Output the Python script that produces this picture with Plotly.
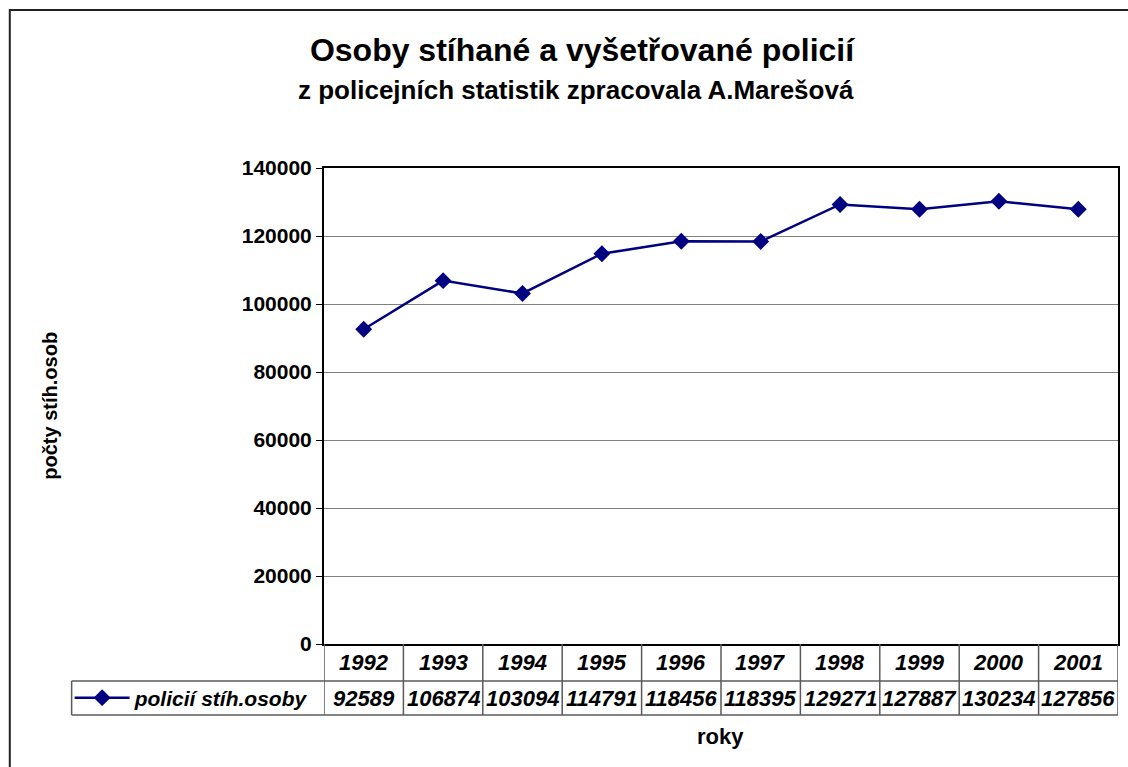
import plotly.graph_objects as go

years = ["1992", "1993", "1994", "1995", "1996", "1997", "1998", "1999", "2000", "2001"]
values = [92589, 106874, 103094, 114791, 118456, 118395, 129271, 127887, 130234, 127856]
series_name = "policií stíh.osoby"
title_text = "Osoby stíhané a vyšetřované policií"
subtitle_text = "z policejních statistik zpracovala A.Marešová"
x_title = "roky"
y_title = "počty stíh.osob"
y_ticks = [0, 20000, 40000, 60000, 80000, 100000, 120000, 140000]

FONT = "Liberation Sans, Arial, sans-serif"
NAVY = "#000080"
GRID = "#808080"
TBL = "#5a5a5a"

W, H = 1128, 767
L, R, T, B = 324, 8, 168, 123
PH = H - T - B
PW = W - L - R


def py(pix):  # pixel y -> paper y
    return (H - B - pix) / PH


def px(pix):  # pixel x -> paper x
    return (pix - L) / PW


fig = go.Figure()
fig.add_trace(go.Scatter(
    x=years, y=values, mode="lines+markers",
    name="<b><i>" + series_name + "</i></b>",
    line=dict(color=NAVY, width=2.5),
    marker=dict(symbol="diamond", size=13, color=NAVY),
    showlegend=True,
))

shapes = []
# outer border
shapes.append(dict(type="rect", xref="paper", yref="paper",
                   x0=px(9), x1=px(1140), y0=py(10), y1=py(790),
                   line=dict(color="#222222", width=2), layer="below"))
# data table: column boundaries
n = len(years)
for i in range(n + 1):
    shapes.append(dict(type="line", xref="x", yref="paper",
                       x0=i - 0.5, x1=i - 0.5, y0=py(644), y1=py(715),
                       line=dict(color=TBL, width=1.5)))
# row lines
for yy in (681, 715):
    shapes.append(dict(type="line", xref="paper", yref="paper",
                       x0=px(71), x1=1, y0=py(yy), y1=py(yy),
                       line=dict(color=TBL, width=1.5)))
# legend cell left border
shapes.append(dict(type="line", xref="paper", yref="paper",
                   x0=px(71), x1=px(71), y0=py(681), y1=py(715),
                   line=dict(color=TBL, width=1.5)))

annotations = []
for i, (yr, v) in enumerate(zip(years, values)):
    annotations.append(dict(x=i, y=py(662.5), xref="x", yref="paper",
                            text="<b><i>%s</i></b>" % yr, showarrow=False,
                            font=dict(family=FONT, size=22, color="black"),
                            xanchor="center", yanchor="middle"))
    annotations.append(dict(x=i, y=py(698), xref="x", yref="paper",
                            text="<b><i>%d</i></b>" % v, showarrow=False,
                            font=dict(family=FONT, size=22, color="black"),
                            xanchor="center", yanchor="middle"))
annotations.append(dict(x=px(577), y=py(90), xref="paper", yref="paper",
                        text="<b>" + subtitle_text + "</b>", showarrow=False,
                        font=dict(family=FONT, size=26, color="black"),
                        xanchor="center", yanchor="middle"))
annotations.append(dict(x=px(721), y=py(736), xref="paper", yref="paper",
                        text="<b>" + x_title + "</b>", showarrow=False,
                        font=dict(family=FONT, size=22, color="black"),
                        xanchor="center", yanchor="middle"))
annotations.append(dict(x=px(49), y=py(406), xref="paper", yref="paper",
                        text="<b>" + y_title + "</b>", showarrow=False,
                        textangle=-90,
                        font=dict(family=FONT, size=20, color="black"),
                        xanchor="center", yanchor="middle"))

fig.update_layout(
    width=W, height=H,
    margin=dict(l=L, r=R, t=T, b=B),
    paper_bgcolor="white", plot_bgcolor="white",
    font=dict(family=FONT, color="black"),
    title=dict(text="<b>" + title_text + "</b>", x=582 / W, xanchor="center",
               y=1 - 50 / H, yanchor="middle",
               font=dict(family=FONT, size=32, color="black")),
    xaxis=dict(type="category", range=[-0.5, n - 0.5], showticklabels=False,
               showgrid=False, zeroline=False, showline=True, linecolor="black",
               linewidth=2, mirror=True, ticks=""),
    yaxis=dict(range=[0, 140000], tickvals=y_ticks, tickformat="d",
               showgrid=True, gridcolor=GRID, gridwidth=1, zeroline=False,
               showline=True, linecolor="black", linewidth=2, mirror=True,
               ticks="outside", ticklen=6, tickcolor="black", tickwidth=1,
               tickfont=dict(family=FONT, size=21, color="black",
                             weight="bold")),
    legend=dict(x=px(69), xanchor="left", y=py(698), yanchor="middle",
                bgcolor="rgba(0,0,0,0)", borderwidth=0, itemwidth=55,
                font=dict(family=FONT, size=21, color="black")),
    shapes=shapes,
    annotations=annotations,
)

fig.write_html("out.html", config={"displayModeBar": False},
               post_script="document.body.style.margin='0';document.body.style.padding='0';")
